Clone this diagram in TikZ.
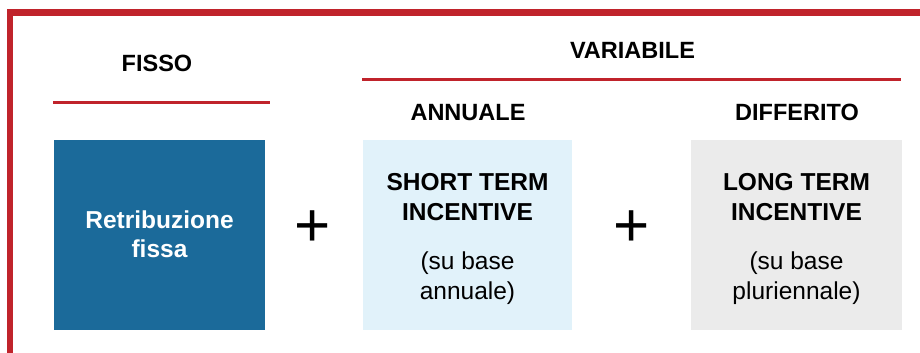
\documentclass[tikz,border=0pt]{standalone}
\usepackage{fontspec}
\setmainfont{Liberation Sans}
\definecolor{framered}{HTML}{C0232B}
\definecolor{fixblue}{HTML}{1B6A9A}
\definecolor{stiblue}{HTML}{E1F2FA}
\definecolor{ltigrey}{HTML}{EBEBEB}
\begin{document}
\begin{tikzpicture}[x=1pt,y=-1pt,
  heading/.style={font=\fontsize{23.5}{26}\selectfont\bfseries, anchor=base, inner sep=0pt},
  rule/.style={draw=framered, line width=3pt},
  paybox/.style={minimum width=211pt, minimum height=190pt, inner sep=0pt, align=center,
                 font=\fontsize{24.5}{30}\selectfont},
  plussign/.style={font=\fontsize{62}{62}\selectfont, inner sep=0pt}]
  \useasboundingbox (0,0) rectangle (920,353);
  % outer frame: top and left edges
  \fill[framered] (7,9) rectangle (920,16);
  \fill[framered] (7,9) rectangle (13,353);

  % column headings with their red rules
  \node[heading] (fisso) at (157,71) {FISSO};
  \draw[rule] (53,102) coordinate (f1) -- (270,102) coordinate (f2);
  \node[heading] (variabile) at (632.5,59) {VARIABILE};
  \draw[rule] (362,79) coordinate (v1) -- (901,79) coordinate (v2);
  \node[heading] (annuale) at (468,120) {ANNUALE};
  \node[heading] (differito) at (797,120) {DIFFERITO};

  % pay components: box fills, then their text blocks
  \node[paybox, fill=fixblue] (fixed) at (159.5,234.5) {};
  \node[paybox, fill=stiblue, minimum width=209pt] (sti) at (467.5,234.5) {};
  \node[paybox, fill=ltigrey] (lti) at (796.5,234.5) {};
  \node[align=center, text=white, font=\fontsize{24.5}{29}\selectfont\bfseries]
    (fixedtext) at ([yshift=0.5pt]fixed.center) {Retribuzione\\fissa};
  \node[align=center, font=\fontsize{24.5}{30}\selectfont]
    (stitext) at ([yshift=-4pt]sti.center) {\textbf{SHORT TERM}\\\textbf{INCENTIVE}\\[19pt](su base\\annuale)};
  \node[align=center, font=\fontsize{24.5}{30}\selectfont]
    (ltitext) at ([yshift=-4pt]lti.center) {\textbf{LONG TERM}\\\textbf{INCENTIVE}\\[19pt](su base\\pluriennale)};

  % plus signs between the boxes
  \node[plussign] (plus1) at (312.7,229) {+};
  \node[plussign] (plus2) at (632,229) {+};
\end{tikzpicture}
\end{document}
